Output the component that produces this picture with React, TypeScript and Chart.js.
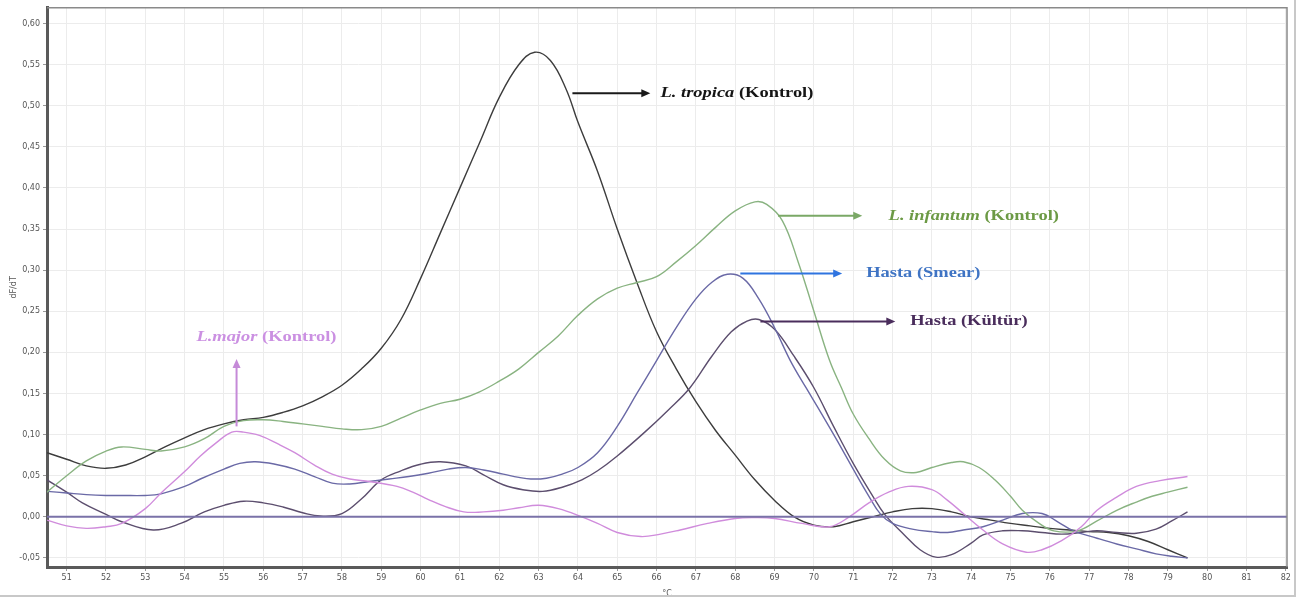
import React, { useEffect, useRef } from "react";
import { Chart, registerables } from "chart.js";

Chart.register(...registerables);

// Temperature ticks (°C) and derivative ticks
const xTickValues = [51, 52, 53, 54, 55, 56, 57, 58, 59, 60, 61, 62, 63, 64, 65, 66, 67, 68, 69, 70, 71, 72, 73, 74, 75, 76, 77, 78, 79, 80, 81, 82];
const yTickValues = [-0.05, 0, 0.05, 0.1, 0.15, 0.2, 0.25, 0.3, 0.35, 0.4, 0.45, 0.5, 0.55, 0.6];

// Series: [temperature, -dF/dT]
const tropica: [number, number][] = [
  [50.5, 0.078], [51, 0.07], [51.5, 0.062], [52, 0.059], [52.5, 0.063], [53, 0.073], [53.5, 0.085], [54, 0.096],
  [54.5, 0.106], [55, 0.113], [55.5, 0.118], [56, 0.121], [56.5, 0.127], [57, 0.135], [57.5, 0.146], [58, 0.16],
  [58.5, 0.18], [59, 0.205], [59.5, 0.24], [60, 0.29], [60.5, 0.345], [61, 0.4], [61.5, 0.455], [62, 0.51],
  [62.5, 0.55], [62.9, 0.565], [63.3, 0.555], [63.7, 0.52], [64, 0.48], [64.5, 0.42], [65, 0.35], [65.5, 0.285],
  [66, 0.225], [66.5, 0.18], [67, 0.14], [67.5, 0.105], [68, 0.075], [68.5, 0.045], [69, 0.02], [69.5, 0.0],
  [70, -0.01], [70.5, -0.012], [71, -0.006], [71.5, 0.0], [72, 0.006], [72.5, 0.01], [73, 0.01], [73.5, 0.006],
  [74, 0.0], [74.5, -0.004], [75, -0.008], [75.5, -0.011], [76, -0.014], [76.5, -0.016], [77, -0.018],
  [77.5, -0.019], [78, -0.023], [78.5, -0.03], [79, -0.04], [79.5, -0.05],
];

const infantum: [number, number][] = [
  [50.5, 0.03], [51, 0.05], [51.5, 0.068], [52, 0.08], [52.4, 0.085], [53, 0.082], [53.4, 0.08], [54, 0.085],
  [54.5, 0.095], [55, 0.11], [55.5, 0.117], [56, 0.118], [56.5, 0.116], [57, 0.113], [57.5, 0.11], [58, 0.107],
  [58.5, 0.106], [59, 0.11], [59.5, 0.12], [60, 0.13], [60.5, 0.138], [61, 0.143], [61.5, 0.152], [62, 0.165],
  [62.5, 0.18], [63, 0.2], [63.5, 0.22], [64, 0.245], [64.5, 0.265], [65, 0.278], [65.5, 0.285], [66, 0.292],
  [66.5, 0.31], [67, 0.33], [67.5, 0.352], [68, 0.372], [68.5, 0.383], [68.8, 0.38], [69.2, 0.36], [69.6, 0.31],
  [70, 0.25], [70.4, 0.19], [70.7, 0.157], [71, 0.125], [71.4, 0.095], [71.8, 0.07], [72.2, 0.056], [72.6, 0.054],
  [73, 0.06], [73.5, 0.066], [73.8, 0.067], [74.2, 0.06], [74.6, 0.045], [75, 0.025], [75.3, 0.008], [75.7, -0.007],
  [76.1, -0.017], [76.7, -0.017], [77.2, -0.005], [77.7, 0.008], [78.2, 0.018], [78.6, 0.025], [79, 0.03], [79.5, 0.036],
];

const major: [number, number][] = [
  [50.5, -0.004], [51, -0.011], [51.5, -0.014], [52, -0.012], [52.4, -0.008], [53, 0.01], [53.4, 0.029], [54, 0.055],
  [54.4, 0.074], [54.8, 0.09], [55.2, 0.103], [55.5, 0.103], [55.9, 0.099], [56.4, 0.088], [56.8, 0.078], [57.3, 0.063],
  [57.75, 0.052], [58.2, 0.046], [58.7, 0.043], [59.4, 0.037], [59.8, 0.03], [60.2, 0.021], [60.6, 0.013], [61.1, 0.006],
  [61.6, 0.006], [62.1, 0.008], [62.5, 0.011], [63, 0.014], [63.5, 0.01], [64.1, 0.0], [64.5, -0.008], [65, -0.019],
  [65.6, -0.024], [66.1, -0.021], [66.6, -0.016], [67.3, -0.008], [68, -0.002], [68.5, -0.001], [69, -0.002],
  [69.7, -0.008], [70.4, -0.012], [70.9, 0.0], [71.4, 0.017], [71.9, 0.03], [72.4, 0.037], [73, 0.033], [73.4, 0.02],
  [73.8, 0.004], [74.3, -0.016], [74.8, -0.033], [75.4, -0.043], [75.8, -0.04], [76.3, -0.029], [76.8, -0.012],
  [77.2, 0.008], [77.7, 0.024], [78.2, 0.037], [78.8, 0.044], [79.5, 0.049],
];

const smear: [number, number][] = [
  [50.5, 0.031], [51, 0.029], [51.5, 0.027], [52, 0.026], [52.4, 0.026], [53, 0.026], [53.4, 0.028], [54, 0.037],
  [54.4, 0.046], [55, 0.058], [55.4, 0.065], [55.8, 0.067], [56.3, 0.064], [56.8, 0.058], [57.3, 0.049], [57.75, 0.041],
  [58.2, 0.04], [58.7, 0.043], [59.2, 0.046], [59.7, 0.049], [60.2, 0.053], [60.7, 0.058], [61.15, 0.06], [61.6, 0.057],
  [62.1, 0.052], [62.5, 0.048], [62.8, 0.046], [63.2, 0.047], [63.6, 0.052], [64, 0.06], [64.5, 0.078], [65, 0.11],
  [65.5, 0.15], [66, 0.19], [66.5, 0.23], [67, 0.265], [67.4, 0.285], [67.8, 0.295], [68.2, 0.29], [68.6, 0.265],
  [69, 0.23], [69.4, 0.19], [69.8, 0.157], [70.2, 0.125], [70.6, 0.092], [71, 0.058], [71.4, 0.025], [71.7, 0.003],
  [72, -0.008], [72.5, -0.015], [73, -0.018], [73.4, -0.019], [73.8, -0.016], [74.3, -0.012], [74.8, -0.004],
  [75.3, 0.004], [75.8, 0.004], [76.2, -0.006], [76.6, -0.017], [77.2, -0.026], [77.7, -0.033], [78.2, -0.039],
  [78.7, -0.045], [79.1, -0.048], [79.5, -0.05],
];

const kultur: [number, number][] = [
  [50.5, 0.045], [51, 0.03], [51.4, 0.017], [52, 0.003], [52.4, -0.006], [53.2, -0.016], [53.9, -0.008], [54.5, 0.006],
  [55, 0.014], [55.5, 0.019], [56, 0.017], [56.5, 0.012], [57, 0.005], [57.45, 0.001], [58, 0.004], [58.5, 0.022],
  [59, 0.045], [59.5, 0.056], [60, 0.064], [60.5, 0.067], [61.15, 0.062], [61.6, 0.051], [62.1, 0.039], [62.6, 0.033],
  [63.1, 0.031], [63.6, 0.036], [64.1, 0.045], [64.5, 0.056], [65, 0.074], [65.7, 0.103], [66.3, 0.13], [66.85, 0.157],
  [67.4, 0.195], [67.9, 0.225], [68.3, 0.238], [68.6, 0.24], [69, 0.228], [69.5, 0.195], [70, 0.157], [70.5, 0.11],
  [71, 0.065], [71.5, 0.025], [71.8, 0.003], [72.3, -0.022], [72.7, -0.04], [73.1, -0.049], [73.5, -0.046], [74, -0.032],
  [74.3, -0.022], [74.8, -0.017], [75.3, -0.017], [75.8, -0.019], [76.3, -0.021], [76.8, -0.019], [77.2, -0.017],
  [77.7, -0.019], [78.2, -0.02], [78.7, -0.015], [79.1, -0.005], [79.5, 0.006],
];

const baseline: [number, number][] = [[50.5, 0], [82.03, 0]];

// Annotation labels (anchors in data units)
const labels = [
  { parts: [{ t: "L. tropica", it: true }, { t: " (Kontrol)", it: false }], color: "#151515", arrowColor: "#1a1a1a", from: [63.86, 0.515], to: [65.84, 0.515], textX: 66.1, dir: "h" },
  { parts: [{ t: "L. infantum", it: true }, { t: " (Kontrol)", it: false }], color: "#6c9a45", arrowColor: "#7aa866", from: [69.09, 0.366], to: [71.23, 0.366], textX: 71.9, dir: "h" },
  { parts: [{ t: "Hasta (Smear)", it: false }], color: "#3f74c4", arrowColor: "#2f74e0", from: [68.13, 0.296], to: [70.72, 0.296], textX: 71.33, dir: "h" },
  { parts: [{ t: "Hasta (Kültür)", it: false }], color: "#4a2d5c", arrowColor: "#4a2d5c", from: [68.64, 0.2376], to: [72.07, 0.2376], textX: 72.45, dir: "h" },
  { parts: [{ t: "L.major", it: true }, { t: " (Kontrol)", it: false }], color: "#cb90e2", arrowColor: "#c58ad8", from: [55.32, 0.11], to: [55.32, 0.192], textX: 56.08, textY: 0.219, dir: "v" },
];

const toXY = (arr: [number, number][]) => arr.map(([x, y]) => ({ x, y }));

export default function App() {
  const ref = useRef<HTMLCanvasElement | null>(null);
  useEffect(() => {
    document.body.style.margin = "0";
    const canvas = ref.current!;
    const overlay = {
      id: "overlay",
      afterDatasetsDraw(chart: any) {
        const ctx = chart.ctx;
        const xs = chart.scales.x;
        const ys = chart.scales.y;
        const a = chart.chartArea;
        ctx.save();
        // top/right frame
        ctx.strokeStyle = "#8a8a8a";
        ctx.lineWidth = 1.5;
        ctx.beginPath();
        ctx.moveTo(a.left, a.top);
        ctx.lineTo(a.right, a.top);
        ctx.lineTo(a.right, a.bottom);
        ctx.stroke();
        // annotations
        const stretch = 1.23;
        for (const l of labels) {
          const x1 = xs.getPixelForValue(l.from[0]);
          const y1 = ys.getPixelForValue(l.from[1]);
          const x2 = xs.getPixelForValue(l.to[0]);
          const y2 = ys.getPixelForValue(l.to[1]);
          ctx.strokeStyle = l.arrowColor;
          ctx.fillStyle = l.arrowColor;
          ctx.lineWidth = 2;
          ctx.beginPath();
          ctx.moveTo(x1, y1);
          if (l.dir === "h") ctx.lineTo(x2 - 6, y2);
          else ctx.lineTo(x2, y2 + 6);
          ctx.stroke();
          ctx.beginPath();
          if (l.dir === "h") {
            ctx.moveTo(x2, y2);
            ctx.lineTo(x2 - 9, y2 - 4);
            ctx.lineTo(x2 - 9, y2 + 4);
          } else {
            ctx.moveTo(x2, y2);
            ctx.lineTo(x2 - 4, y2 + 9);
            ctx.lineTo(x2 + 4, y2 + 9);
          }
          ctx.closePath();
          ctx.fill();
          ctx.fillStyle = l.color;
          ctx.textBaseline = "middle";
          ctx.textAlign = "left";
          const ty = l.dir === "h" ? y2 : ys.getPixelForValue(l.textY);
          const fonts = l.parts.map((p) => (p.it ? "italic bold 15px 'Liberation Serif', serif" : "bold 15px 'Liberation Serif', serif"));
          let widths = 0;
          l.parts.forEach((p, i) => { ctx.font = fonts[i]; widths += ctx.measureText(p.t).width; });
          let tx = xs.getPixelForValue(l.textX);
          if (l.dir === "v") tx = tx - (widths * stretch) / 2;
          ctx.save();
          ctx.translate(tx, ty);
          ctx.scale(stretch, 1);
          let cx = 0;
          l.parts.forEach((p, i) => {
            ctx.font = fonts[i];
            ctx.fillText(p.t, cx, 0);
            cx += ctx.measureText(p.t).width;
          });
          ctx.restore();
        }
        // outer frame
        ctx.strokeStyle = "#c8c8c8";
        ctx.lineWidth = 2;
        ctx.beginPath();
        ctx.moveTo(0, chart.height - 3);
        ctx.lineTo(chart.width - 3, chart.height - 3);
        ctx.lineTo(chart.width - 3, 0);
        ctx.stroke();
        ctx.restore();
      },
    };
    const lineDs = (label: string, data: [number, number][], color: string, width = 1.4) => ({
      label,
      data: toXY(data),
      borderColor: color,
      backgroundColor: color,
      borderWidth: width,
      pointRadius: 0,
      tension: 0.4,
      fill: false,
    });
    const chart = new Chart(canvas, {
      type: "line",
      data: {
        datasets: [
          lineDs("baseline", baseline, "#7a72a8", 2),
          lineDs("L. major (Kontrol)", major, "#d08cdc"),
          lineDs("L. infantum (Kontrol)", infantum, "#89b381"),
          lineDs("Hasta (Smear)", smear, "#6a69a6"),
          lineDs("Hasta (Kültür)", kultur, "#5c4e6e"),
          lineDs("L. tropica (Kontrol)", tropica, "#3d3d3d"),
        ],
      },
      options: {
        responsive: false,
        animation: false,
        events: [],
        layout: { padding: { top: 5, right: 11, left: 0, bottom: 0 } },
        plugins: { legend: { display: false }, tooltip: { enabled: false } },
        scales: {
          x: {
            type: "linear",
            min: 50.5,
            max: 82.03,
            afterBuildTicks: (axis: any) => { axis.ticks = xTickValues.map((v) => ({ value: v })); },
            afterFit: (axis: any) => { axis.height = 32; },
            ticks: {
              autoSkip: false,
              maxRotation: 0,
              padding: 2,
              color: "#555",
              font: { size: 8, family: "'DejaVu Sans', sans-serif" },
              callback: (v: any) => String(v),
            },
            grid: { color: "#ececec", lineWidth: 1, tickLength: 4, tickColor: "#999" },
            border: { color: "#5a5a5a", width: 3 },
            title: { display: true, text: "°C", color: "#555", font: { size: 8, family: "'DejaVu Sans', sans-serif" }, padding: { top: 0, bottom: 0 } },
          },
          y: {
            type: "linear",
            min: -0.061,
            max: 0.619,
            afterBuildTicks: (axis: any) => { axis.ticks = yTickValues.map((v) => ({ value: v })); },
            afterFit: (axis: any) => { axis.width = 47; },
            ticks: {
              autoSkip: false,
              padding: 3,
              color: "#555",
              font: { size: 8, family: "'DejaVu Sans', sans-serif" },
              callback: (v: any) => Number(v).toFixed(2).replace(".", ","),
            },
            grid: { color: "#ececec", lineWidth: 1, tickLength: 4, tickColor: "#999" },
            border: { color: "#5a5a5a", width: 3 },
            title: { display: true, text: "dF/dT", color: "#555", font: { size: 8, family: "'DejaVu Sans', sans-serif" }, padding: { top: 9, bottom: 0 } },
          },
        },
      },
      plugins: [overlay],
    });
    return () => chart.destroy();
  }, []);
  return (
    <div style={{ position: "absolute", left: 0, top: 0, width: 1298, height: 599, background: "#fff" }}>
      <canvas ref={ref} width={1298} height={599} style={{ display: "block" }} />
    </div>
  );
}
